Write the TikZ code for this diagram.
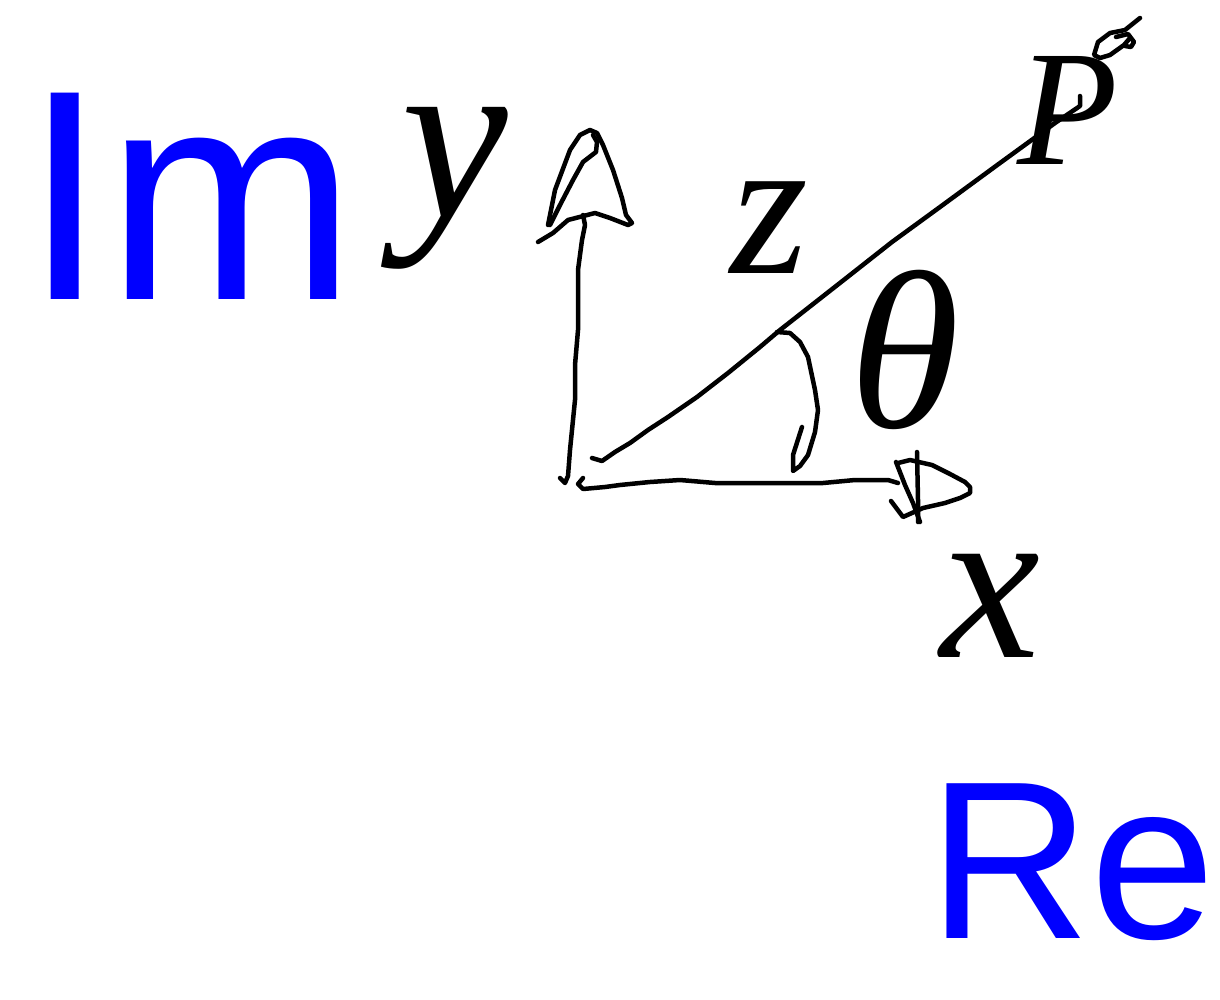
\documentclass[tikz,border=0pt]{standalone}
\usepackage{fontspec}
\newfontfamily\bigsans{Liberation Sans}
\newfontfamily\handfont{Liberation Serif}
\begin{document}
\begin{tikzpicture}[x=1pt,y=-1pt,
  stroke/.style={line width=4.5pt,line cap=round,line join=round,black},
  bluelabel/.style={text=blue,inner sep=0pt},
  handlabel/.style={inner sep=0pt,black}]
\useasboundingbox[fill=white] (0,0) rectangle (1220,999);
% vertical axis arrow
\draw[stroke] (560,478) -- (565,483) -- (568,476) -- (570,450) -- (575,400) -- (575,365) -- (578,330) -- (578,270) -- (582,240) -- (585,225) -- (583,215);
\draw[stroke] (548,225) -- (555,190) -- (570,150) -- (580,135) -- (590,130) -- (597,133) -- (603,145) -- (613,170) -- (622,198) -- (626,215) -- (632,223) -- (628,225) -- (610,218) -- (595,213) -- (568,220) -- (553,233) -- (538,242);
\draw[stroke] (550,225) -- (560,205) -- (573,180) -- (583,162) -- (596,152) -- (597,142) -- (593,135);
% horizontal axis arrow
\draw[stroke] (583,478) -- (578,484) -- (583,489) -- (605,487) -- (620,485) -- (650,482) -- (680,480) -- (715,483) -- (823,483) -- (855,480) -- (888,480) -- (898,483);
\draw[stroke] (898,463) -- (910,460) -- (932,465) -- (950,474) -- (965,482) -- (970,487) -- (970,493) -- (960,498) -- (945,503) -- (923,508) -- (903,517) -- (891,501);
\draw[stroke] (896,462) -- (905,485) -- (913,503) -- (920,522);
\draw[stroke] (917,452) -- (918,500) -- (918,522);
% hypotenuse
\draw[stroke] (592,458) -- (602,461) -- (615,452) -- (630,443) -- (648,430) -- (668,417) -- (697,397) -- (728,373) -- (760,347) -- (780,330) -- (845,279) -- (892,242) -- (940,207) -- (1000,163) -- (1055,123) -- (1080,106) -- (1080,96);
% angle arc
\draw[stroke] (777,332) -- (790,333) -- (800,342) -- (808,357) -- (815,390) -- (818,410) -- (815,432) -- (808,455) -- (800,466) -- (793,471) -- (793,455) -- (802,427);
% small loop top right
\draw[stroke] (1140,18) -- (1125,30) -- (1110,33) -- (1098,42) -- (1094,55) -- (1100,58) -- (1110,55) -- (1124,45) -- (1130,38);
\draw[stroke] (1116,37) -- (1128,34) -- (1134,42) -- (1131,47) -- (1125,46);
% labels
\node[handlabel,font=\fontsize{240}{240}\handfont\itshape] (ylab) at (455,188) {y};
\node[handlabel,font=\fontsize{200}{200}\handfont\itshape] (zlab) at (769,228) {z};
\node[handlabel,font=\fontsize{225}{225}\handfont\itshape] (thlab) at (905,350) {θ};
\node[handlabel,font=\fontsize{225}{225}\handfont\itshape] (xlab) at (990,606) {x};
\node[handlabel,font=\fontsize{165}{165}\handfont\itshape] (plab) at (1068,110) {P};
\node[bluelabel,font=\fontsize{300}{300}\bigsans] (imlab) at (190,196) {Im};
\node[bluelabel,font=\fontsize{225}{225}\bigsans] (relab) at (1072,862) {Re};
\end{tikzpicture}
\end{document}
